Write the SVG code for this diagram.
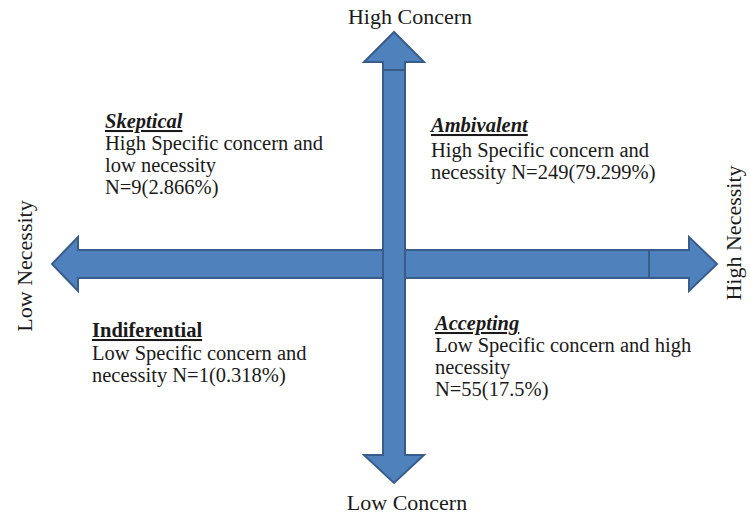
<svg xmlns="http://www.w3.org/2000/svg" width="750" height="518" viewBox="0 0 750 518">
<style>
.arrow{fill:#4f81bd;stroke:#385d8a;stroke-width:2;stroke-linejoin:miter}
.seam{stroke:#385d8a;stroke-width:2;fill:none}
text{font-family:"Liberation Serif","Times New Roman",serif;fill:#1a1a1a}
.axis{font-size:22px}
.body{font-size:20.5px}
.title{font-size:20.5px;font-weight:bold;text-decoration:underline}
.it{font-style:italic}
</style>
<rect width="750" height="518" fill="#ffffff"/>
<g id="connectors">
<g id="horizontal-arrow">
<polygon class="arrow" points="52,264 78,237 78,250 689,250 689,237 717,264 689,291 689,278 78,278 78,291"/>
<line class="seam" x1="649" y1="250" x2="649" y2="278"/>
</g>
<g id="vertical-arrow">
<polygon class="arrow" points="394,32 424,62 405,62 405,455 424,455 394,483 364,455 383,455 383,62 364,62"/>
<line class="seam" x1="383" y1="70" x2="405" y2="70"/>
</g>
</g>
<g id="axis-high-concern"><text class="axis" x="410" y="24" text-anchor="middle">High Concern</text></g>
<g id="axis-low-concern"><text class="axis" x="407" y="510" text-anchor="middle">Low Concern</text></g>
<g id="axis-low-necessity"><text class="axis" transform="translate(32,266) rotate(-90)" text-anchor="middle">Low Necessity</text></g>
<g id="axis-high-necessity"><text class="axis" transform="translate(741,233) rotate(-90)" text-anchor="middle">High Necessity</text></g>
<g id="skeptical">
<text class="title it" x="105" y="128">Skeptical</text>
<text class="body" x="105" y="150">High Specific concern and</text>
<text class="body" x="105" y="172">low necessity</text>
<text class="body" x="105" y="194">N=9(2.866%)</text>
</g>
<g id="ambivalent">
<text class="title it" x="431" y="132">Ambivalent</text>
<text class="body" x="431" y="157">High Specific concern and</text>
<text class="body" x="431" y="179">necessity N=249(79.299%)</text>
</g>
<g id="indiferential">
<text class="title" x="92" y="337">Indiferential</text>
<text class="body" x="92" y="360">Low Specific concern and</text>
<text class="body" x="92" y="382">necessity N=1(0.318%)</text>
</g>
<g id="accepting">
<text class="title it" x="435" y="330">Accepting</text>
<text class="body" x="435" y="352">Low Specific concern and high</text>
<text class="body" x="435" y="374">necessity</text>
<text class="body" x="435" y="396">N=55(17.5%)</text>
</g>
</svg>
